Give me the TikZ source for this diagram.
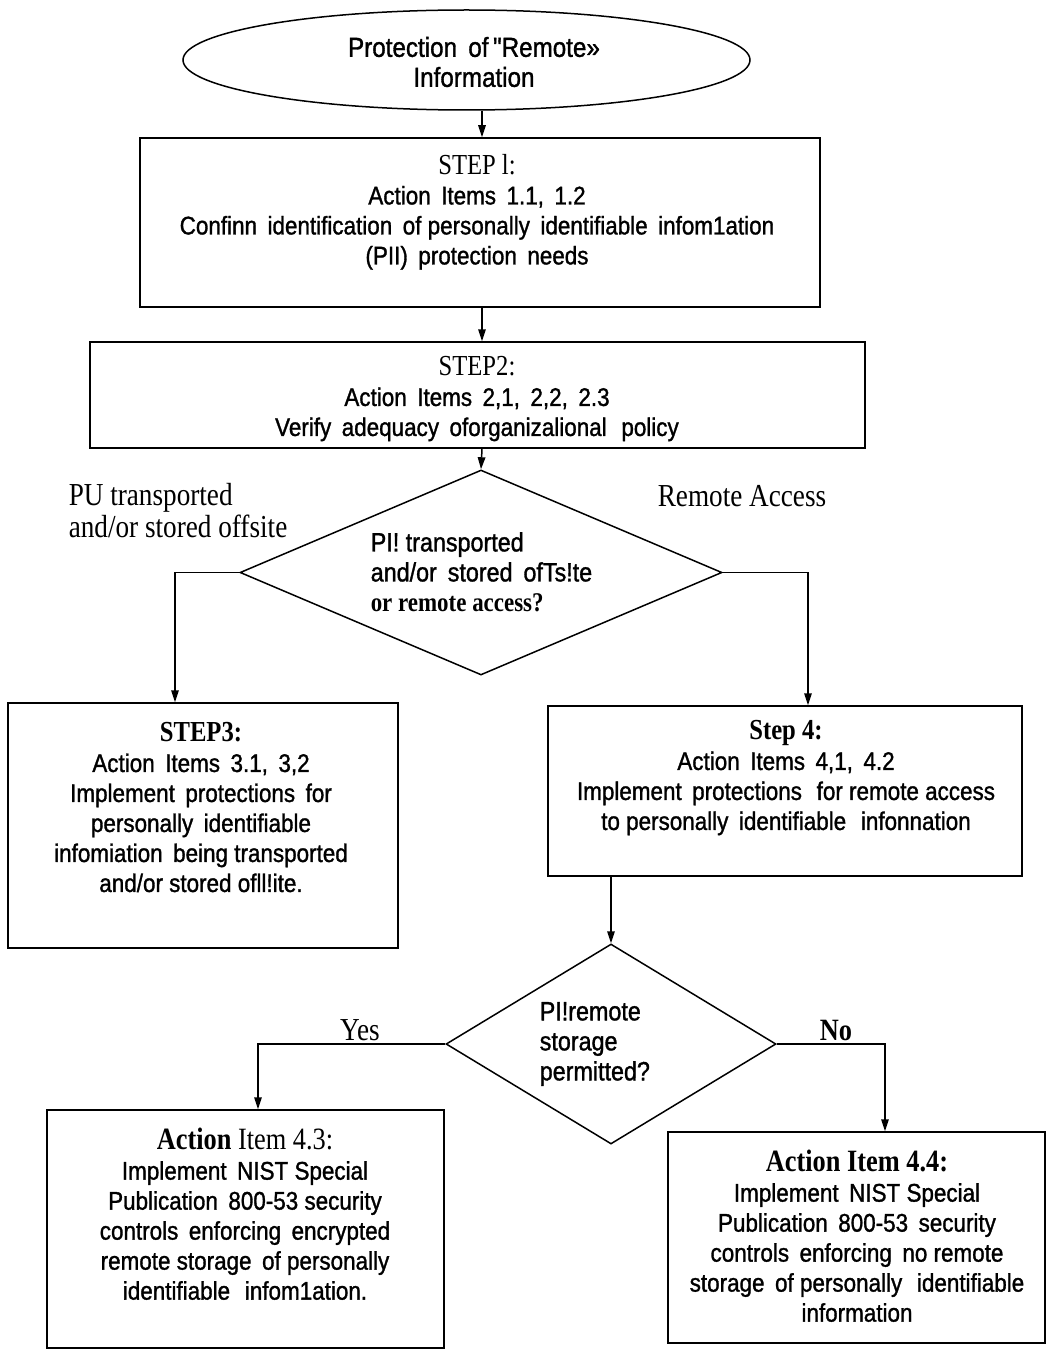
\documentclass[tikz,border=0pt]{standalone}
\usepackage{fontspec}
\usetikzlibrary{shapes.geometric,arrows.meta}
\newfontfamily\sansn{Liberation Sans}[FakeStretch=0.88,FakeBold=1.2]
\newfontfamily\serifn{Liberation Serif}[FakeStretch=0.85]
\begin{document}
\begin{tikzpicture}[x=1pt,y=-1pt,
  line width=1.5pt,
  boxst/.style={draw,rectangle,inner sep=0pt},
  txt/.style={align=center,inner sep=0pt,font=\sansn\fontsize{25.5}{30}\selectfont},
  ltxt/.style={align=left,inner sep=0pt,font=\sansn\fontsize{26.5}{30}\selectfont},
  lbl/.style={inner sep=0pt,font=\serifn\fontsize{32}{32}\selectfont},
  arr/.style={-{Triangle[length=12pt,width=7.5pt]}},
  dia/.style={draw,diamond,inner sep=0pt}]
\useasboundingbox (0,0) rectangle (1049,1351);
% start
\node[draw,ellipse,minimum width=567pt,minimum height=100pt,inner sep=0pt] (e) at (466.5,60) {};
\node[txt,font=\sansn\fontsize{27.5}{30}\selectfont] (et) at (474,62) {Protection\, of\,"Remote»\\Information};
% boxes
\node[boxst,minimum width=680pt,minimum height=169pt] (s1) at (480,222.5) {};
\node[txt] (s1t) at (477,212) {{\serifn\fontsize{29}{30}\selectfont STEP l:}\\Action\, Items\, 1.1,\, 1.2\\Confinn\, identification\, of personally\, identifiable\, infom1ation\\(PII)\, protection\, needs};
\node[boxst,minimum width=775pt,minimum height=106pt] (s2) at (477.5,395) {};
\node[txt] (s2t) at (477,399) {{\serifn\fontsize{29}{30}\selectfont STEP2:}\\Action\, Items\, 2,1,\, 2,2,\, 2.3\\Verify\, adequacy\, oforganizalional\, \,policy};
% decision 1
\node[dia,minimum width=482pt,minimum height=205pt] (d1) at (481,572.5) {};
\node[ltxt,anchor=west] (d1t) at (370,572) {PI! transported\\and/or\, stored\, ofTs!te\\{\serifn\bfseries\fontsize{27}{30}\selectfont or remote access?}};
\node[lbl,align=left,anchor=west] (l1) at (68,511) {PU transported\\and/or stored offsite};
\node[lbl] (l2) at (742,496) {Remote Access};
% step 3 and 4
\node[boxst,minimum width=390pt,minimum height=245pt] (s3) at (203,825.5) {};
\node[txt] (s3t) at (201,807.5) {{\serifn\bfseries\fontsize{29}{30}\selectfont STEP3:}\\Action\, Items\, 3.1,\, 3,2\\Implement\, protections\, for\\personally\, identifiable\\infomiation\, being transported\\and/or stored ofll!ite.};
\node[boxst,minimum width=474pt,minimum height=170pt] (s4) at (785,791) {};
\node[txt] (s4t) at (786,778) {{\serifn\bfseries\fontsize{29}{30}\selectfont Step 4:}\\Action\, Items\, 4,1,\, 4.2\\Implement\, protections\, \,for remote access\\to personally\, identifiable\, \,infonnation};
% decision 2
\node[dia,minimum width=330pt,minimum height=200pt] (d2) at (611,1044) {};
\node[ltxt,anchor=west] (d2t) at (539,1044) {PI!remote\\storage\\permitted?};
\node[lbl] (yes) at (360,1030) {Yes};
\node[lbl,font=\serifn\bfseries\fontsize{31}{32}\selectfont] (no) at (836,1030) {No};
% final boxes
\node[boxst,minimum width=397pt,minimum height=238pt] (s5) at (245.5,1229) {};
\node[txt] (s5t) at (245,1214) {{\serifn\fontsize{31}{30}\selectfont\textbf{Action} Item 4.3:}\\Implement\, NIST Special\\Publication\, 800-53 security\\controls\, enforcing\, encrypted\\remote storage\, of personally\\identifiable\, \,infom1ation.};
\node[boxst,minimum width=377pt,minimum height=211pt] (s6) at (856.5,1237.5) {};
\node[txt] (s6t) at (857,1236) {{\serifn\bfseries\fontsize{31}{30}\selectfont Action Item 4.4:}\\Implement\, NIST Special\\Publication\, 800-53\, security\\controls\, enforcing\, no remote\\storage\, of personally\, \,identifiable\\information};
% connector columns
\coordinate (c1) at (482,0);
\coordinate (cL) at (175,0);
\coordinate (cR) at (808,0);
\coordinate (c4) at (611,0);
\coordinate (cY) at (258,0);
\coordinate (cN) at (885,0);
% connectors
\draw[arr] (c1 |- e.south) -- (c1 |- s1.north);
\draw[arr] (c1 |- s1.south) -- (c1 |- s2.north);
\draw[arr] (c1 |- s2.south) -- (d1.north);
\draw[arr] (d1.west) -| (cL |- s3.north);
\draw[arr] (d1.east) -| (cR |- s4.north);
\draw[arr] (c4 |- s4.south) -- (d2.north);
\draw[arr] (d2.west) -| (cY |- s5.north);
\draw[arr] (d2.east) -| (cN |- s6.north);
\end{tikzpicture}
\end{document}
